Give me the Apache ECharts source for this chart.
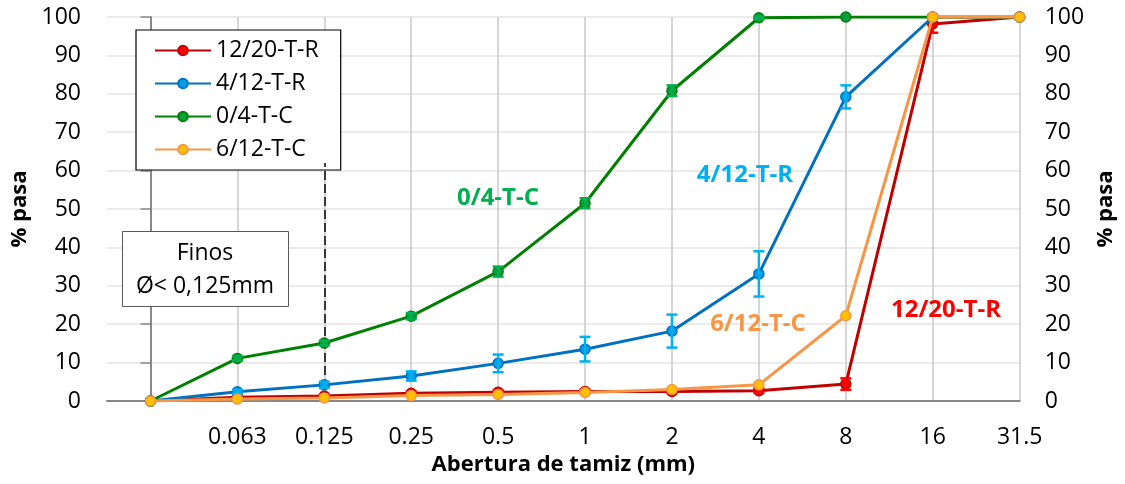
<!DOCTYPE html>
<html>
<head>
<meta charset="utf-8">
<script src="https://cdn.jsdelivr.net/npm/echarts@6/dist/echarts.min.js"></script>
<style>
  html, body { margin: 0; padding: 0; background: #fff; }
  #chart { width: 1125px; height: 484px; }
</style>
</head>
<body>
<div id="chart"></div>
<script>
// Sieve openings (mm); the first position is the pan (no label)
const sieves = ['', '0.063', '0.125', '0.25', '0.5', '1', '2', '4', '8', '16', '31.5'];
const yTicks = [0, 10, 20, 30, 40, 50, 60, 70, 80, 90, 100];

// Percentage passing for each sample
const r1220 = [0, 1.0, 1.3, 2.0, 2.3, 2.5, 2.5, 2.7, 4.4, 98.2, 100];
const r412  = [0, 2.4, 4.2, 6.5, 9.8, 13.5, 18.2, 33.1, 79.2, 100, 100];
const c04   = [0, 11.1, 15.1, 22.1, 33.7, 51.5, 80.8, 99.8, 100, 100, 100];
const c612  = [0, 0.5, 0.8, 1.4, 1.7, 2.2, 3.0, 4.2, 22.2, 100, 100];

// Standard deviations shown as error bars
const r1220Err = [0, 0.3, 0.4, 0.5, 0.5, 0.5, 0.5, 0.6, 1.5, 2.3, 0];
const r412Err  = [0, 0.5, 0.8, 1.2, 2.3, 3.2, 4.3, 5.9, 3.0, 0, 0];
const c04Err   = [0, 0.6, 0.6, 0.8, 1.3, 1.3, 1.4, 0.3, 0, 0, 0];

// Upper end of the fines divider (kept below the legend box)
const finesLimit = { x: 2, top: 62 };

const FONT = 'Open Sans';

function pts(arr) { return arr.map((v, i) => [i, v]); }
function errData(vals, errs) {
  return vals.map((v, i) => [i, v - errs[i], v + errs[i]]).filter((d, i) => errs[i] > 0);
}
function errSeries(vals, errs, color, z) {
  return {
    type: 'custom',
    z: z,
    silent: true,
    data: errData(vals, errs),
    encode: { x: 0, y: [1, 2] },
    renderItem: function (params, api) {
      const lo = api.coord([api.value(0), api.value(1)]);
      const hi = api.coord([api.value(0), api.value(2)]);
      const w = 5.5;
      const style = { stroke: color, lineWidth: 2.5, fill: null };
      return {
        type: 'group',
        children: [
          { type: 'line', shape: { x1: lo[0], y1: lo[1], x2: hi[0], y2: hi[1] }, style: style },
          { type: 'line', shape: { x1: lo[0] - w, y1: lo[1], x2: lo[0] + w, y2: lo[1] }, style: style },
          { type: 'line', shape: { x1: hi[0] - w, y1: hi[1], x2: hi[0] + w, y2: hi[1] }, style: style }
        ]
      };
    }
  };
}
function lineSeries(name, vals, lineColor, fill, z) {
  return {
    name: name,
    type: 'line',
    z: z,
    data: pts(vals),
    symbol: 'circle',
    symbolSize: 10,
    lineStyle: { color: lineColor, width: 3 },
    itemStyle: { color: fill, borderColor: lineColor, borderWidth: 1.5 },
    emphasis: { disabled: true },
    animation: false
  };
}
function seriesTag(text, x, y, color) {
  return {
    type: 'text', x: x, y: y, z: 11,
    style: { text: text, textAlign: 'center', textVerticalAlign: 'middle', font: 'bold 24px ' + FONT, fill: color }
  };
}

const chart = echarts.init(document.getElementById('chart'), null, { renderer: 'canvas' });

const dashed = lineSeries('12/20-T-R', r1220, '#c00000', '#ff0000', 3);
dashed.markLine = {
  silent: true,
  symbol: 'none',
  label: { show: false },
  lineStyle: { color: '#000', type: [9, 4], width: 1.5 },
  data: [[{ coord: [finesLimit.x, 0] }, { coord: [finesLimit.x, finesLimit.top] }]]
};

chart.setOption({
  animation: false,
  textStyle: { fontFamily: FONT },
  grid: { left: 107, right: 100, top: 17, bottom: 83 },
  xAxis: {
    type: 'value',
    min: -0.5,
    max: 10,
    name: 'Abertura de tamiz (mm)',
    nameLocation: 'middle',
    nameGap: 52,
    nameTextStyle: { fontFamily: FONT, fontSize: 22, fontWeight: 'bold', color: '#000' },
    axisLine: { show: true, lineStyle: { color: '#888', width: 2 } },
    axisTick: { show: false, customValues: sieves.map((s, i) => i) },
    axisLabel: {
      customValues: sieves.map((s, i) => i),
      formatter: v => sieves[Math.round(v)] || '',
      fontFamily: FONT, fontSize: 23, color: '#000', margin: 25
    },
    splitLine: { show: true, lineStyle: { color: '#c8c8c8', width: 1.5 } }
  },
  yAxis: [
    {
      type: 'value', min: 0, max: 100, interval: 10,
      name: '% pasa', nameLocation: 'middle', nameGap: 76, nameRotate: 90,
      nameTextStyle: { fontFamily: FONT, fontSize: 22, fontWeight: 'bold', color: '#000' },
      axisLine: { show: true, lineStyle: { color: '#888', width: 2 } },
      axisTick: { show: true, length: 10, lineStyle: { color: '#888', width: 1.5 } },
      axisLabel: { fontFamily: FONT, fontSize: 23, color: '#000', margin: 26,
        formatter: v => (yTicks.indexOf(v) >= 0 ? String(v) : '') },
      splitLine: { show: true, lineStyle: { color: '#e4e4e4', width: 1.5 } }
    },
    {
      type: 'value', min: 0, max: 100, interval: 10, position: 'right',
      name: '% pasa', nameLocation: 'middle', nameGap: 72, nameRotate: 90,
      nameTextStyle: { fontFamily: FONT, fontSize: 22, fontWeight: 'bold', color: '#000' },
      axisLine: { show: false }, axisTick: { show: false },
      axisLabel: { fontFamily: FONT, fontSize: 23, color: '#000', margin: 25,
        formatter: v => (yTicks.indexOf(v) >= 0 ? String(v) : '') },
      splitLine: { show: false }
    }
  ],
  legend: {
    orient: 'vertical',
    left: 136, top: 30,
    padding: [9, 22, 9, 18],
    itemGap: 10,
    itemWidth: 56,
    itemHeight: 12,
    selectedMode: false,
    backgroundColor: '#fff',
    borderColor: '#000',
    borderWidth: 1.2,
    textStyle: { fontFamily: FONT, fontSize: 23, color: '#000', lineHeight: 21 },
    data: ['12/20-T-R', '4/12-T-R', '0/4-T-C', '6/12-T-C']
  },
  graphic: [
    {
      type: 'rect', left: 122, top: 231, z: 10,
      shape: { width: 166, height: 75 },
      style: { fill: '#fff', stroke: '#595959', lineWidth: 1 }
    },
    {
      type: 'text', x: 205, y: 253, z: 11,
      style: { text: 'Finos', textAlign: 'center', textVerticalAlign: 'middle', font: '23px ' + FONT, fill: '#000' }
    },
    {
      type: 'text', x: 205, y: 286, z: 11,
      style: { text: 'Ø< 0,125mm', textAlign: 'center', textVerticalAlign: 'middle', font: '23px ' + FONT, fill: '#000' }
    },
    seriesTag('0/4-T-C', 498, 198, '#00b050'),
    seriesTag('4/12-T-R', 745, 175, '#00b0f0'),
    seriesTag('6/12-T-C', 758, 324, '#f79646'),
    seriesTag('12/20-T-R', 946, 310, '#ff0000')
  ],
  series: [
    dashed,
    errSeries(r1220, r1220Err, '#ff0000', 4),
    lineSeries('4/12-T-R', r412, '#0070c0', '#00a0e8', 5),
    errSeries(r412, r412Err, '#00b0f0', 6),
    lineSeries('0/4-T-C', c04, '#008000', '#00a040', 7),
    errSeries(c04, c04Err, '#00b050', 8),
    lineSeries('6/12-T-C', c612, '#f79646', '#ffc000', 9)
  ]
});
</script>
</body>
</html>
